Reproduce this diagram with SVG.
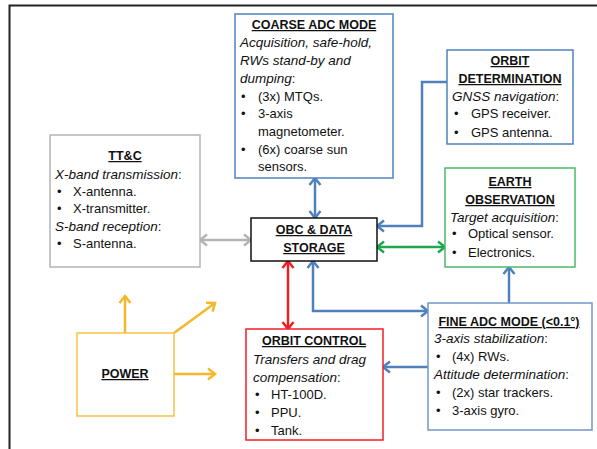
<svg xmlns="http://www.w3.org/2000/svg" width="597" height="449" viewBox="0 0 597 449">
<style>
text{font-family:"Liberation Sans",Arial,sans-serif;font-size:13px;fill:#111}
.t{font-weight:bold;font-size:12.5px;text-anchor:middle;text-decoration:underline}
.i{font-style:italic;font-size:13.5px}
.box{fill:#fff;stroke-width:1.5}
.c{fill:none;stroke-width:2.5}
</style>
<defs>
<marker id="ab" markerUnits="userSpaceOnUse" markerWidth="14" markerHeight="14" refX="8" refY="7" orient="auto-start-reverse" viewBox="0 0 14 14"><path d="M1,1.5 L8,7 L1,12.5" fill="none" stroke="#4F81BD" stroke-width="2.5"/></marker>
<marker id="ag" markerUnits="userSpaceOnUse" markerWidth="14" markerHeight="14" refX="8" refY="7" orient="auto-start-reverse" viewBox="0 0 14 14"><path d="M1,1.5 L8,7 L1,12.5" fill="none" stroke="#1FA84F" stroke-width="2.5"/></marker>
<marker id="ar" markerUnits="userSpaceOnUse" markerWidth="14" markerHeight="14" refX="8" refY="7" orient="auto-start-reverse" viewBox="0 0 14 14"><path d="M1,1.5 L8,7 L1,12.5" fill="none" stroke="#F21C24" stroke-width="2.5"/></marker>
<marker id="ay" markerUnits="userSpaceOnUse" markerWidth="14" markerHeight="14" refX="8" refY="7" orient="auto-start-reverse" viewBox="0 0 14 14"><path d="M1,1.5 L8,7 L1,12.5" fill="none" stroke="#F4B82A" stroke-width="2.5"/></marker>
<marker id="ak" markerUnits="userSpaceOnUse" markerWidth="14" markerHeight="14" refX="8" refY="7" orient="auto-start-reverse" viewBox="0 0 14 14"><path d="M1,1.5 L8,7 L1,12.5" fill="none" stroke="#B4B4B4" stroke-width="2.5"/></marker>
</defs>
<rect x="0" y="0" width="597" height="449" fill="#fff"/>
<path d="M9.5,449 V5.5 H597" fill="none" stroke="#222" stroke-width="2"/>

<g id="connectors">
<path class="c" d="M200,240 H251" stroke="#B4B4B4" marker-start="url(#ak)" marker-end="url(#ak)"/>
<path class="c" d="M315,178 V218" stroke="#4F81BD" marker-start="url(#ab)" marker-end="url(#ab)"/>
<path class="c" d="M447,82 H422 V226 H377" stroke="#4F81BD" marker-end="url(#ab)"/>
<path class="c" d="M377,247 H445" stroke="#1FA84F" marker-start="url(#ag)" marker-end="url(#ag)"/>
<path class="c" d="M288,261 V329" stroke="#F21C24" marker-start="url(#ar)" marker-end="url(#ar)"/>
<path class="c" d="M313,261 V311 H428" stroke="#4F81BD" marker-start="url(#ab)" marker-end="url(#ab)"/>
<path class="c" d="M509,303 V267" stroke="#4F81BD" marker-end="url(#ab)"/>
<path class="c" d="M428,367 H383" stroke="#4F81BD" marker-end="url(#ab)"/>
<path class="c" d="M125,333 V296" stroke="#F4B82A" marker-end="url(#ay)"/>
<path class="c" d="M174,333 L215,303" stroke="#F4B82A" marker-end="url(#ay)"/>
<path class="c" d="M174,374 H215" stroke="#F4B82A" marker-end="url(#ay)"/>
</g>

<g id="coarse-adc">
<rect class="box" x="235" y="14" width="158" height="164" stroke="#4F81BD"/>
<text class="t" x="314" y="29">COARSE ADC MODE</text>
<text class="i" x="240" y="47">Acquisition, safe-hold,</text>
<text class="i" x="240" y="65">RWs stand-by and</text>
<text x="240" y="83"><tspan class="i">dumping</tspan>:</text>
<text x="241" y="101">•</text><text x="258" y="101">(3x) MTQs.</text>
<text x="241" y="118">•</text><text x="258" y="118">3-axis</text>
<text x="258" y="136">magnetometer.</text>
<text x="241" y="154">•</text><text x="258" y="154">(6x) coarse sun</text>
<text x="258" y="171">sensors.</text>
</g>

<g id="orbit-determination">
<rect class="box" x="447" y="50" width="126" height="94" stroke="#4F81BD"/>
<text class="t" x="510" y="65">ORBIT</text>
<text class="t" x="510" y="83">DETERMINATION</text>
<text x="452" y="101"><tspan class="i">GNSS navigation</tspan>:</text>
<text x="454" y="118">•</text><text x="471" y="118">GPS receiver.</text>
<text x="454" y="137">•</text><text x="471" y="137">GPS antenna.</text>
</g>

<g id="earth-observation">
<rect class="box" x="445" y="168" width="130" height="99" stroke="#4CB86A"/>
<text class="t" x="510" y="186">EARTH</text>
<text class="t" x="510" y="204">OBSERVATION</text>
<text x="450" y="222"><tspan class="i">Target acquisition</tspan>:</text>
<text x="452" y="238">•</text><text x="468" y="238">Optical sensor.</text>
<text x="452" y="257">•</text><text x="468" y="257">Electronics.</text>
</g>

<g id="ttc">
<rect class="box" x="50" y="135" width="150" height="132" stroke="#B4B4B4"/>
<text class="t" x="125" y="160">TT&amp;C</text>
<text x="55" y="179"><tspan class="i">X-band transmission</tspan>:</text>
<text x="57" y="196">•</text><text x="73" y="196">X-antenna.</text>
<text x="57" y="213">•</text><text x="73" y="213">X-transmitter.</text>
<text x="55" y="231"><tspan class="i">S-band reception</tspan>:</text>
<text x="57" y="248">•</text><text x="73" y="248">S-antenna.</text>
</g>

<g id="obc">
<rect class="box" x="251" y="218" width="126" height="43" stroke="#111"/>
<text class="t" x="314" y="234">OBC &amp; DATA</text>
<text class="t" x="314" y="252">STORAGE</text>
</g>

<g id="power">
<rect class="box" x="77" y="333" width="97" height="83" stroke="#F6C244"/>
<text class="t" x="125" y="378">POWER</text>
</g>

<g id="orbit-control">
<rect class="box" x="246" y="329" width="137" height="111" stroke="#F21C24"/>
<text class="t" x="314" y="345">ORBIT CONTROL</text>
<text class="i" x="253" y="364">Transfers and drag</text>
<text x="253" y="382"><tspan class="i">compensation</tspan>:</text>
<text x="255" y="399">•</text><text x="271" y="399">HT-100D.</text>
<text x="255" y="417">•</text><text x="271" y="417">PPU.</text>
<text x="255" y="435">•</text><text x="271" y="435">Tank.</text>
</g>

<g id="fine-adc">
<rect class="box" x="428" y="303" width="164" height="127" stroke="#7096C8"/>
<text class="t" x="509" y="326">FINE ADC MODE (&lt;0.1°)</text>
<text x="434" y="343"><tspan class="i">3-axis stabilization</tspan>:</text>
<text x="436" y="361">•</text><text x="452" y="361">(4x) RWs.</text>
<text x="434" y="379"><tspan class="i">Attitude determination</tspan>:</text>
<text x="436" y="397">•</text><text x="452" y="397">(2x) star trackers.</text>
<text x="436" y="415">•</text><text x="452" y="415">3-axis gyro.</text>
</g>
</svg>
